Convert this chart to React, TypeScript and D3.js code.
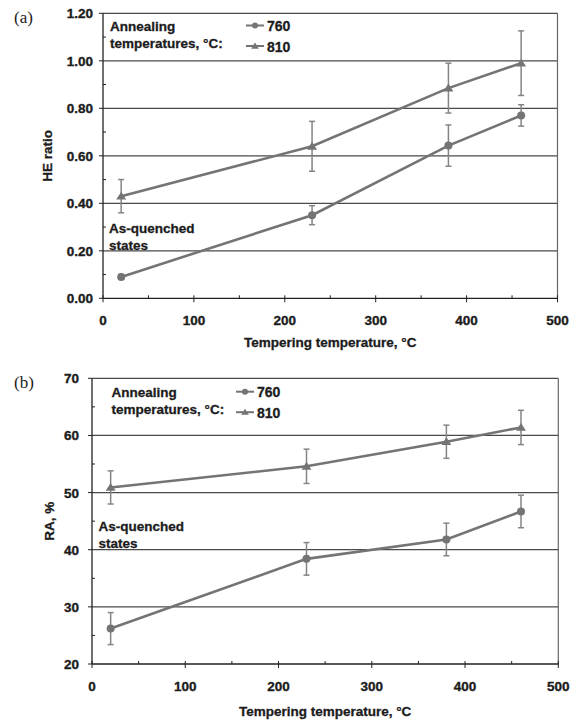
import * as d3 from 'd3';

const TEMPERING = [20, 230, 380, 460];

const HE_760 = [0.09, 0.35, 0.643, 0.77];
const HE_760_ERR = [0.01, 0.04, 0.087, 0.045];
const HE_810 = [0.43, 0.64, 0.885, 0.99];
const HE_810_ERR = [0.07, 0.105, 0.105, 0.136];

const RA_760 = [26.2, 38.4, 41.8, 46.7];
const RA_760_ERR = [2.8, 2.85, 2.85, 2.85];
const RA_810 = [50.9, 54.6, 58.9, 61.4];
const RA_810_ERR = [2.9, 3.0, 2.9, 3.0];

const X_TICKS = [0, 100, 200, 300, 400, 500];
const HE_TICKS = [0, 0.2, 0.4, 0.6, 0.8, 1.0, 1.2];
const RA_TICKS = [20, 30, 40, 50, 60, 70];

const SERIES_NAMES = ['760', '810'];

const FONT = '"Liberation Sans", Arial, sans-serif';
const TEXT = '#1c1c1c';
const LINE = '#747474';
const ERR = '#858585';
const GRID = '#4a4a4a';

type PanelProps = {
  tag: string;
  left: number; right: number; top: number; bottom: number;
  yDomain: [number, number];
  yTicks: number[];
  yMinorStep: number;
  yFormat: (v: number) => string;
  yTitle: string;
  yTitleX: number;
  labelGap: number;
  s760: number[]; e760: number[];
  s810: number[]; e810: number[];
  legend: { x: number; y: number; lx: number };
  note: { x: number; y: number };
  titleY: number;
};

function triangle(cx: number, cy: number, r: number) {
  return `M${cx},${cy - r}L${cx + r * 1.1},${cy + r * 0.75}L${cx - r * 1.1},${cy + r * 0.75}Z`;
}

function Panel(p: PanelProps) {
  const x = d3.scaleLinear().domain([0, 500]).range([p.left, p.right]);
  const y = d3.scaleLinear().domain(p.yDomain).range([p.bottom, p.top]);
  const line = d3.line<number>().x((_, i) => x(TEMPERING[i])).y(d => y(d));
  const xMinor = d3.range(50, 500, 100);
  const yMinor = d3.range(p.yDomain[0] + p.yMinorStep, p.yDomain[1], p.yMinorStep * 2);

  const errBars = (vals: number[], errs: number[], key: string) =>
    vals.map((v, i) => {
      const cx = x(TEMPERING[i]);
      const y1 = y(v + errs[i]);
      const y2 = y(v - errs[i]);
      return (
        <g key={key + i} stroke={ERR} strokeWidth={1.5}>
          <line x1={cx} x2={cx} y1={y1} y2={y2} />
          <line x1={cx - 3} x2={cx + 3} y1={y1} y2={y1} />
          <line x1={cx - 3} x2={cx + 3} y1={y2} y2={y2} />
        </g>
      );
    });

  return (
    <g fontFamily={FONT} fontWeight="bold" fill={TEXT}>
      {/* gridlines */}
      {p.yTicks.slice(1, -1).map(t => (
        <line key={'g' + t} x1={p.left} x2={p.right} y1={y(t)} y2={y(t)} stroke={GRID} strokeWidth={1.2} />
      ))}
      {/* frame */}
      <line x1={p.left} x2={p.right} y1={p.top} y2={p.top} stroke={GRID} strokeWidth={1.2} />
      <line x1={p.right} x2={p.right} y1={p.top} y2={p.bottom} stroke="#666" strokeWidth={1.2} />
      <line x1={p.left} x2={p.left} y1={p.top} y2={p.bottom} stroke="#222" strokeWidth={1.3} />
      <line x1={p.left} x2={p.right} y1={p.bottom} y2={p.bottom} stroke="#222" strokeWidth={1.3} />

      {/* x ticks */}
      {X_TICKS.map(t => (
        <g key={'xt' + t}>
          <line x1={x(t)} x2={x(t)} y1={p.bottom - 3} y2={p.bottom + 4} stroke="#222" />
          <text x={x(t)} y={p.bottom + 27} textAnchor="middle" fontSize={13.5} stroke={TEXT} strokeWidth={0.35}>{t}</text>
        </g>
      ))}
      {xMinor.map(t => (
        <line key={'xm' + t} x1={x(t)} x2={x(t)} y1={p.bottom - 3} y2={p.bottom} stroke="#222" />
      ))}
      {/* y ticks */}
      {p.yTicks.map(t => (
        <g key={'yt' + t}>
          <line x1={p.left - 4} x2={p.left} y1={y(t)} y2={y(t)} stroke="#222" />
          <text x={p.left - p.labelGap} y={y(t) + 5} textAnchor="end" fontSize={13.5} stroke={TEXT} strokeWidth={0.35}>{p.yFormat(t)}</text>
        </g>
      ))}
      {yMinor.map(t => (
        <line key={'ym' + t} x1={p.left} x2={p.left + 3} y1={y(t)} y2={y(t)} stroke="#222" />
      ))}

      {/* axis titles */}
      <text x={(p.left + p.right) / 2} y={p.titleY} textAnchor="middle" fontSize={13.5} stroke={TEXT} strokeWidth={0.3}>
        Tempering temperature, °C
      </text>
      <text
        transform={`translate(${p.yTitleX},${(p.top + p.bottom) / 2}) rotate(-90)`}
        textAnchor="middle"
        fontSize={13.5}
        stroke={TEXT}
        strokeWidth={0.3}
      >
        {p.yTitle}
      </text>
      <text x={14} y={p.top + 10} fontFamily='"Liberation Serif", "Times New Roman", serif' fontWeight="normal" fontSize={17}>
        {p.tag}
      </text>

      {/* series */}
      {errBars(p.s810, p.e810, 'e810')}
      {errBars(p.s760, p.e760, 'e760')}
      <path d={line(p.s810) ?? ''} fill="none" stroke={LINE} strokeWidth={2.6} />
      <path d={line(p.s760) ?? ''} fill="none" stroke={LINE} strokeWidth={2.6} />
      {p.s810.map((v, i) => (
        <path key={'m810' + i} d={triangle(x(TEMPERING[i]), y(v), 4.5)} fill={LINE} />
      ))}
      {p.s760.map((v, i) => (
        <circle key={'m760' + i} cx={x(TEMPERING[i])} cy={y(v)} r={4} fill={LINE} />
      ))}

      {/* legend */}
      <g stroke={TEXT} strokeWidth={0.3}>
        <text x={p.legend.x} y={p.legend.y} fontSize={13.5}>Annealing</text>
        <text x={p.legend.x} y={p.legend.y + 17} fontSize={13.5}>temperatures, °C:</text>
      </g>
      {SERIES_NAMES.map((name, i) => {
        const ly = p.legend.y - 5 + i * 20.5;
        const cx = p.legend.lx + 9;
        return (
          <g key={'lg' + name}>
            <line x1={p.legend.lx} x2={p.legend.lx + 18} y1={ly} y2={ly} stroke={LINE} strokeWidth={2} />
            {i === 0 ? (
              <circle cx={cx} cy={ly} r={3} fill={LINE} />
            ) : (
              <path d={triangle(cx, ly, 3.5)} fill={LINE} />
            )}
            <text x={p.legend.lx + 21} y={ly + 5.5} fontSize={14} stroke={TEXT} strokeWidth={0.3}>{name}</text>
          </g>
        );
      })}

      {/* annotation */}
      <g stroke={TEXT} strokeWidth={0.3}>
        <text x={p.note.x} y={p.note.y} fontSize={13.5}>As-quenched</text>
        <text x={p.note.x} y={p.note.y + 17} fontSize={13.5}>states</text>
      </g>
    </g>
  );
}

export default function App() {
  return (
    <div style={{ position: 'absolute', left: 0, top: 0 }}>
      <svg width={580} height={722} style={{ display: 'block', background: '#fff' }}>
        <Panel
          tag="(a)"
          left={103} right={557.5} top={13.3} bottom={298.3}
          yDomain={[0, 1.2]}
          yTicks={HE_TICKS}
          yMinorStep={0.1}
          yFormat={d3.format('.2f')}
          yTitle="HE ratio"
          yTitleX={51.5}
          labelGap={10}
          s760={HE_760} e760={HE_760_ERR}
          s810={HE_810} e810={HE_810_ERR}
          legend={{ x: 110, y: 30.5, lx: 246 }}
          note={{ x: 109, y: 232.5 }}
          titleY={346.5}
        />
        <Panel
          tag="(b)"
          left={92} right={558.3} top={378.3} bottom={664}
          yDomain={[20, 70]}
          yTicks={RA_TICKS}
          yMinorStep={5}
          yFormat={d3.format('d')}
          yTitle="RA, %"
          yTitleX={53.5}
          labelGap={13}
          s760={RA_760} e760={RA_760_ERR}
          s810={RA_810} e810={RA_810_ERR}
          legend={{ x: 111.5, y: 396.7, lx: 236 }}
          note={{ x: 98.5, y: 531 }}
          titleY={716}
        />
      </svg>
    </div>
  );
}
